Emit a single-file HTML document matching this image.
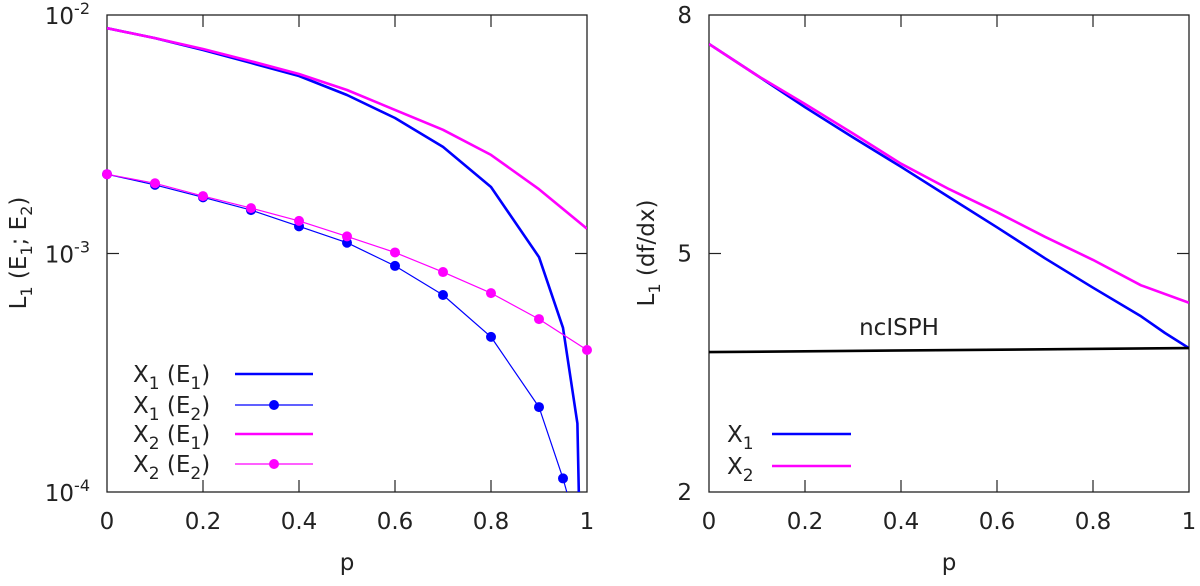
<!DOCTYPE html>
<html><head><meta charset="utf-8"><style>
html,body{margin:0;padding:0;background:#fff;overflow:hidden;width:1200px;height:586px;}
svg{display:block;}
svg text{font-family:"DejaVu Sans","Liberation Sans",sans-serif;font-size:23px;fill:#222;}
</style></head><body>
<svg id="c" width="1200" height="586" xmlns="http://www.w3.org/2000/svg"></svg>
<script>
const pGrid=[0,0.1,0.2,0.3,0.4,0.5,0.6,0.7,0.8,0.9];
const x1e1P=[0,0.1,0.2,0.3,0.4,0.5,0.6,0.7,0.8,0.9,0.95,0.98,0.983];
const x1e1V=[0.0088,0.0080,0.00713,0.0063,0.00555,0.00462,0.0037,0.0028,0.0019,0.000966,0.000488,0.000194,0.0001];
const x2e1P=[0,0.1,0.2,0.3,0.4,0.5,0.6,0.7,0.8,0.9,1.0];
const x2e1V=[0.0088,0.0080,0.0072,0.0064,0.00566,0.00485,0.0040,0.0033,0.00259,0.00186,0.00127];
const x1e2P=[0,0.1,0.2,0.3,0.4,0.5,0.6,0.7,0.8,0.9,0.95];
const x1e2V=[0.00215,0.00194,0.00172,0.00152,0.0013,0.00111,0.000887,0.00067,0.000447,0.000227,0.000114];
const x2e2P=[0,0.1,0.2,0.3,0.4,0.5,0.6,0.7,0.8,0.9,1.0];
const x2e2V=[0.00215,0.00197,0.00174,0.00155,0.00137,0.00118,0.00101,0.000836,0.000682,0.000531,0.000394];
const rP=[0,0.1,0.2,0.3,0.4,0.5,0.6,0.7,0.8,0.9,0.95,1.0];
const rX1=[7.635,7.24,6.84,6.46,6.09,5.71,5.33,4.94,4.57,4.21,4.0,3.81];
const rX2P=[0,0.1,0.2,0.3,0.4,0.5,0.6,0.7,0.8,0.9,1.0];
const rX2=[7.635,7.24,6.88,6.51,6.13,5.81,5.52,5.21,4.92,4.60,4.38];
const ncP=[0,1];
const ncV=[3.76,3.81];
const xTicks=[0,0.2,0.4,0.6,0.8,1];
const xTickLabels=["0","0.2","0.4","0.6","0.8","1"];
const rYTicks=[2,5,8];

const S=document.getElementById('c');const NS='http://www.w3.org/2000/svg';
function el(t,a,txt){const e=document.createElementNS(NS,t);for(const k in a)e.setAttribute(k,a[k]);if(txt!==undefined)e.textContent=txt;S.appendChild(e);return e;}
const T=15,B=492;
const Lx=p=>107+p*480, Ly=v=>B-(Math.log10(Math.max(v,1e-4))+4)*(B-T)/2;
const Rx=p=>709+p*480, Ry=v=>B-(v-2)*(B-T)/6;

const defs=el('defs',{});
defs.innerHTML='<clipPath id="cl"><rect x="107" y="15" width="480" height="477"/></clipPath><clipPath id="cr"><rect x="709" y="15" width="480" height="477"/></clipPath>';

function frame(x0,name){
  let e=el('rect',{x:x0,y:T,width:480,height:B-T,fill:'none',stroke:'#222','stroke-width':1.3});
  
  xTicks.forEach((p,i)=>{const x=x0+p*480;
    if(i>0&&i<5){el('line',{x1:x,x2:x,y1:B,y2:B-12,stroke:'#222','stroke-width':1.2});el('line',{x1:x,x2:x,y1:T,y2:T+12,stroke:'#222','stroke-width':1.2});}
    const t=el('text',{x:x,y:529,'text-anchor':'middle'},xTickLabels[i]);
    });
  const t=el('text',{x:x0+240,y:570,'text-anchor':'middle'},'p');
  
}
frame(107,'left');frame(709,'right');

[-4,-3,-2].forEach(k=>{const y=Ly(Math.pow(10,k));
  if(k===-3){el('line',{x1:107,x2:119,y1:y,y2:y,stroke:'#222','stroke-width':1.2});el('line',{x1:587,x2:575,y1:y,y2:y,stroke:'#222','stroke-width':1.2});}
  const t=el('text',{x:90,y:y+9,'text-anchor':'end'});t.innerHTML='10<tspan dy="-10" font-size="16">'+k+'</tspan>';
  });
rYTicks.forEach(v=>{const y=Ry(v);
  if(v===5){el('line',{x1:709,x2:721,y1:y,y2:y,stroke:'#222','stroke-width':1.2});el('line',{x1:1189,x2:1177,y1:y,y2:y,stroke:'#222','stroke-width':1.2});}
  const t=el('text',{x:692,y:y+8,'text-anchor':'end'},String(v));
  });

let yt=el('text',{transform:'translate(26,253) rotate(-90)','text-anchor':'middle'});
yt.innerHTML='L<tspan dy="6" font-size="16">1</tspan><tspan dy="-6"> (E</tspan><tspan dy="6" font-size="16">1</tspan><tspan dy="-6">; E</tspan><tspan dy="6" font-size="16">2</tspan><tspan dy="-6">)</tspan>';

yt=el('text',{transform:'translate(654,253) rotate(-90)','text-anchor':'middle'});
yt.innerHTML='L<tspan dy="6" font-size="16">1</tspan><tspan dy="-6"> (df/dx)</tspan>';


function line(P,V,fx,fy,col,w,clip,name,dots){
  const d=P.map((p,i)=>(i?'L':'M')+fx(p).toFixed(1)+','+fy(V[i]).toFixed(1)).join('');
  const e=el('path',{d:d,fill:'none',stroke:col,'stroke-width':w,'clip-path':'url(#'+clip+')','stroke-linejoin':'round'});
  
  if(dots)P.forEach((p,i)=>{const c=el('circle',{cx:fx(p),cy:fy(V[i]),r:5,fill:col});
    });
}
line(x1e1P,x1e1V,Lx,Ly,'#0000ff',2.6,'cl','x1-e1-line',false);
line(x2e1P,x2e1V,Lx,Ly,'#ff00ff',2.6,'cl','x2-e1-line',false);
line(x1e2P.concat([0.958]),x1e2V.concat([0.0001]),Lx,Ly,'#0000ff',1.2,'cl','x1-e2-line',false);
x1e2P.forEach((p,i)=>{const c=el('circle',{cx:Lx(p),cy:Ly(x1e2V[i]),r:5,fill:'#0000ff'});});
line(x2e2P,x2e2V,Lx,Ly,'#ff00ff',1.2,'cl','x2-e2-line',true);

line(rP,rX1,Rx,Ry,'#0000ff',2.6,'cr','right-x1-line',false);
line(rX2P,rX2,Rx,Ry,'#ff00ff',2.6,'cr','right-x2-line',false);
line(ncP,ncV,Rx,Ry,'#000',2.6,'cr','ncisph-line',false);
let nt=el('text',{x:899,y:335,'text-anchor':'middle'},'ncISPH');


const legL=[['1','1','#0000ff',2.6,false],['1','2','#0000ff',1.2,true],['2','1','#ff00ff',2.6,false],['2','2','#ff00ff',1.2,true]];
const legY=[374,405,434,464];
legL.forEach((l,i)=>{const y=legY[i];
  const t=el('text',{x:133,y:y+8});t.innerHTML='X<tspan dy="7" font-size="17">'+l[0]+'</tspan><tspan dy="-7"> (E</tspan><tspan dy="7" font-size="17">'+l[1]+'</tspan><tspan dy="-7">)</tspan>';
  
  el('line',{x1:235,x2:313,y1:y,y2:y,stroke:l[2],'stroke-width':l[3]});
  if(l[4])el('circle',{cx:274,cy:y,r:5,fill:l[2]});});
[['1','#0000ff',434],['2','#ff00ff',466]].forEach(l=>{
  const t=el('text',{x:727,y:l[2]+8});t.innerHTML='X<tspan dy="7" font-size="17">'+l[0]+'</tspan>';
  
  el('line',{x1:772,x2:851,y1:l[2],y2:l[2],stroke:l[1],'stroke-width':2.6});});
</script>
</body></html>
